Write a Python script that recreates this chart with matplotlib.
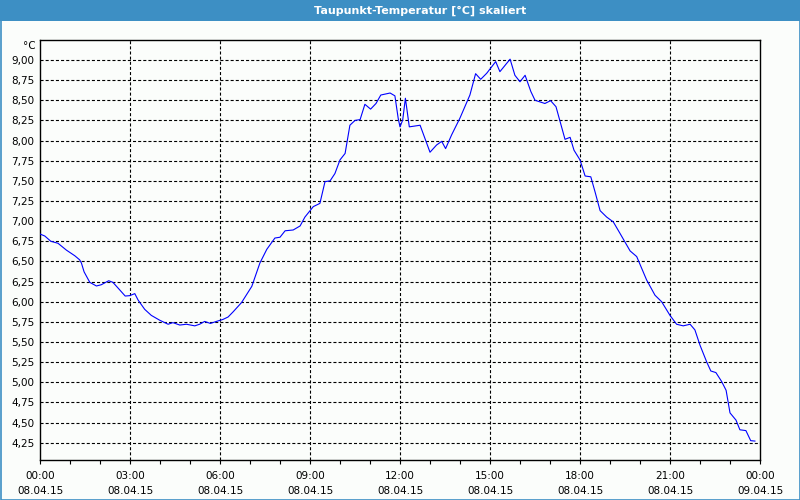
import matplotlib
matplotlib.use("Agg")
import matplotlib.pyplot as plt
from matplotlib.patches import Rectangle
from matplotlib.ticker import MultipleLocator

# Data: time in hours since 08.04.15 00:00, dew point in °C
hours = [0.00, 0.16, 0.36, 0.60, 0.88, 1.16, 1.32, 1.38, 1.47, 1.66, 1.88, 2.04,
         2.29, 2.43, 2.60, 2.84, 2.99, 3.16, 3.27, 3.49, 3.71, 3.99, 4.27, 4.43,
         4.66, 4.88, 5.16, 5.32, 5.49, 5.68, 5.88, 6.10, 6.27, 6.44, 6.72, 7.06,
         7.33, 7.56, 7.83, 8.00, 8.17, 8.44, 8.67, 8.83, 9.11, 9.33, 9.50, 9.67,
         9.83, 10.00, 10.17, 10.33, 10.50, 10.67, 10.83, 11.02, 11.20, 11.36,
         11.67, 11.83, 11.94, 12.00, 12.09, 12.18, 12.31, 12.67, 13.00, 13.22,
         13.39, 13.52, 13.72, 14.00, 14.33, 14.52, 14.69, 14.89, 15.19, 15.33,
         15.67, 15.83, 16.00, 16.17, 16.36, 16.50, 16.83, 17.02, 17.20, 17.50,
         17.67, 17.80, 18.00, 18.09, 18.17, 18.36, 18.50, 18.67, 18.89, 19.11,
         19.33, 19.67, 19.89, 20.22, 20.50, 20.72, 21.00, 21.22, 21.44, 21.67,
         21.83, 22.00, 22.22, 22.36, 22.53, 22.72, 22.87, 23.00, 23.20, 23.33,
         23.53, 23.69, 23.83]
dewpoint = [6.84, 6.815, 6.75, 6.725, 6.64, 6.57, 6.52, 6.48, 6.37, 6.24, 6.195, 6.21,
            6.26, 6.24, 6.17, 6.07, 6.075, 6.10, 6.02, 5.905, 5.83, 5.77, 5.72, 5.74,
            5.71, 5.72, 5.70, 5.72, 5.755, 5.73, 5.755, 5.78, 5.81, 5.875, 5.99, 6.19,
            6.48, 6.65, 6.79, 6.80, 6.88, 6.89, 6.94, 7.05, 7.18, 7.22, 7.49, 7.50,
            7.59, 7.76, 7.84, 8.19, 8.25, 8.26, 8.45, 8.39, 8.46, 8.565,
            8.59, 8.555, 8.275, 8.17, 8.255, 8.525, 8.17, 8.19, 7.855, 7.945,
            7.99, 7.90, 8.07, 8.28, 8.565, 8.83, 8.76, 8.835, 8.98, 8.855,
            9.01, 8.81, 8.73, 8.81, 8.61, 8.50, 8.46, 8.495, 8.42, 8.015,
            8.04, 7.88, 7.76, 7.655, 7.56, 7.55, 7.365, 7.13, 7.05, 6.99,
            6.85, 6.63, 6.56, 6.27, 6.08, 6.00, 5.83, 5.72, 5.70, 5.72,
            5.65, 5.46, 5.255, 5.14, 5.12, 5.01, 4.90, 4.62, 4.53, 4.41,
            4.40, 4.275, 4.27]

x_ticks = [0, 3, 6, 9, 12, 15, 18, 21, 24]
x_labels = ["00:00\n08.04.15", "03:00\n08.04.15", "06:00\n08.04.15", "09:00\n08.04.15",
            "12:00\n08.04.15", "15:00\n08.04.15", "18:00\n08.04.15", "21:00\n08.04.15",
            "00:00\n09.04.15"]
y_ticks = [4.25 + 0.25 * i for i in range(20)]
y_labels = [f"{v:.2f}".replace(".", ",") for v in y_ticks]
title = "Taupunkt-Temperatur [°C] skaliert"
unit = "°C"

plt.rcParams["lines.scale_dashes"] = False
plt.rcParams["font.family"] = ["DejaVu Sans"]

W, H = 800, 500
fig = plt.figure(figsize=(8, 5), dpi=100, facecolor="#fbfdfb")

# title bar
fig.patches.append(Rectangle((0, 1 - 21 / H), 1, 21 / H, transform=fig.transFigure,
                             facecolor="#3d8fc4", edgecolor="none", zorder=0))
fig.text(420 / W, 1 - 10.5 / H, title, color="white", fontsize=8, fontweight="bold",
         ha="center", va="center")
# outer border
fig.patches.append(Rectangle((0.5 / W, 0.5 / H), 1 - 1 / W, 1 - 1 / H, transform=fig.transFigure,
                             facecolor="none", edgecolor="#3d8fc4", linewidth=1.2, zorder=5))

ax = fig.add_axes([40 / W, 1 - 460 / H, 720 / W, 420 / H])
ax.set_facecolor("#fbfdfb")
ax.plot(hours, dewpoint, color="#0000ff", linewidth=0.8, zorder=3)

ax.set_xlim(0, 24)
ax.set_ylim(4.035, 9.248)

ax.set_yticks(y_ticks)
ax.set_yticklabels(y_labels)
ax.set_xticks(x_ticks)
ax.set_xticklabels(x_labels, linespacing=1.55)
ax.xaxis.set_minor_locator(MultipleLocator(1))

ax.tick_params(axis="y", length=0, pad=4, labelsize=7.5, colors="black")
ax.tick_params(axis="x", which="both", direction="out", length=3, width=0.8,
               pad=5, labelsize=7.5)

for y in y_ticks:
    ax.axhline(y, color="black", linewidth=0.8, dashes=(2.2, 1.5), zorder=1)
for x in x_ticks[1:-1]:
    ax.axvline(x, color="black", linewidth=0.8, dashes=(2.2, 1.5), zorder=1)

for s in ax.spines.values():
    s.set_linewidth(1.0)
    s.set_color("black")

fig.text(36 / W, 1 - 46 / H, unit, fontsize=7.5, ha="right", va="center")

fig.savefig("out.png", dpi=100, facecolor=fig.get_facecolor())
